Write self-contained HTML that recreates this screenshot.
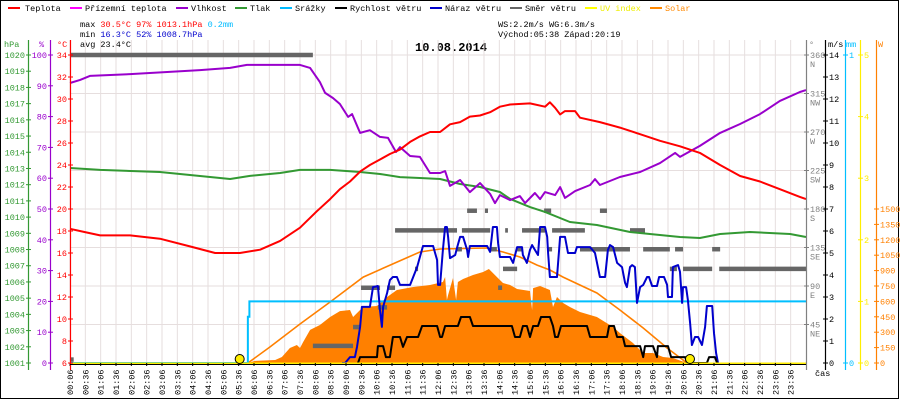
<!DOCTYPE html>
<html><head><meta charset="utf-8"><style>
html,body{margin:0;padding:0;background:#fff;}
svg{display:block;font-family:"Liberation Mono",monospace;}
</style></head><body>
<svg id="chart" width="900" height="400" viewBox="0 0 900 400">
<rect x="0.5" y="0.5" width="898" height="398" fill="#fff" stroke="#000"/>
<g font-size="8.5" fill="#000">
 <g><rect x="8" y="7" width="12" height="2" fill="#f00"/><text x="25" y="11">Teplota</text></g>
 <g><rect x="70" y="7" width="12" height="2" fill="#f0f"/><text x="85" y="11">Přízemní teplota</text></g>
 <g><rect x="176" y="7" width="12" height="2" fill="#90c"/><text x="191" y="11">Vlhkost</text></g>
 <g><rect x="235" y="7" width="12" height="2" fill="#393"/><text x="250" y="11">Tlak</text></g>
 <g><rect x="280" y="7" width="12" height="2" fill="#0bf"/><text x="295" y="11">Srážky</text></g>
 <g><rect x="335" y="7" width="12" height="2" fill="#000"/><text x="350" y="11">Rychlost větru</text></g>
 <g><rect x="430" y="7" width="12" height="2" fill="#00c"/><text x="445" y="11">Náraz větru</text></g>
 <g><rect x="510" y="7" width="12" height="2" fill="#666"/><text x="525" y="11">Směr větru</text></g>
 <g><rect x="585" y="7" width="12" height="2" fill="#ff0"/><text x="600" y="11" fill="#ee0">UV index</text></g>
 <g><rect x="650" y="7" width="12" height="2" fill="#f80"/><text x="665" y="11" fill="#f80">Solar</text></g>
</g>
<g font-size="8.5">
 <text x="80" y="27">max <tspan fill="#f00">30.5°C</tspan>  <tspan fill="#f00">97%</tspan>  <tspan fill="#f00">1013.1hPa</tspan>   <tspan fill="#0bf">0.2mm</tspan></text>
 <text x="80" y="37">min <tspan fill="#00c">16.3°C</tspan>  <tspan fill="#00c">52%</tspan>  <tspan fill="#00c">1008.7hPa</tspan></text>
 <text x="80" y="47">avg 23.4°C</text>
 <text x="498" y="27">WS:2.2m/s    WG:6.3m/s</text>
 <text x="498" y="37">Východ:05:38 Západ:20:19</text>
</g>
<text x="415" y="51" font-size="12" font-weight="bold">10.08.2014</text>
<g id="grid"></g>
<g id="marks"></g>
<g id="axes"></g>
</svg>
<script>
// ---- data (time in decimal hours) ----
const tempT=[0.10,0.59,1.08,2.06,3.03,4.01,4.83,5.64,6.30,6.95,7.60,8.15,8.58,8.90,9.23,9.56,9.88,10.21,10.53,10.86,11.19,11.51,11.84,12.17,12.49,12.82,13.14,13.47,13.80,14.12,14.45,15.10,15.59,15.75,15.92,16.08,16.24,16.57,16.73,17.38,18.03,18.69,19.34,19.99,20.64,21.30,21.95,22.60,23.25,23.90,24.10];
const tempV=[18.2,17.9,17.6,17.6,17.3,16.6,16.0,16.0,16.3,17.1,18.3,19.8,20.9,21.8,22.5,23.4,24.0,24.5,25.0,25.4,26.1,26.6,27.0,27.0,27.7,27.9,28.4,28.5,28.8,29.3,29.5,29.6,29.3,29.7,29.2,28.6,28.9,28.9,28.3,27.9,27.4,26.8,26.2,25.7,25.1,24.0,23.0,22.5,21.8,21.1,20.9];
const humT=[0.10,0.43,0.75,2.06,4.34,5.32,5.87,7.60,7.93,8.25,8.42,8.68,8.90,9.17,9.30,9.56,9.88,10.21,10.47,10.73,10.86,11.19,11.51,11.84,12.17,12.33,12.49,12.82,13.14,13.47,13.80,13.96,14.12,14.45,14.77,14.94,15.26,15.43,15.59,15.92,16.08,16.24,16.57,17.06,17.22,17.38,18.03,18.69,19.34,19.83,19.99,20.64,21.30,21.95,22.60,23.25,23.90,24.10];
const humV=[90.9,91.9,93.2,93.8,95.1,95.8,96.8,96.8,95.8,91.2,87.7,86.0,84.1,79.9,80.8,74.7,75.6,73.4,73.1,68.5,70.1,67.2,66.9,61.7,61.7,62.3,57.5,59.4,55.5,58.4,54.9,51.9,54.5,52.9,54.2,51.9,55.2,53.2,55.5,54.5,57.1,53.6,55.8,57.8,59.7,57.8,60.4,62.0,64.9,68.2,66.9,70.5,74.7,77.6,80.8,85.1,88.0,88.6];
const presT=[0.10,1.08,3.03,5.32,5.97,6.95,7.60,8.58,9.56,10.21,10.86,11.51,12.17,12.82,13.47,14.12,14.45,15.10,15.59,16.40,17.28,18.36,19.01,19.99,20.64,21.30,22.27,23.58,24.10];
const presV=[1013.03,1012.91,1012.78,1012.35,1012.54,1012.72,1012.91,1012.91,1012.78,1012.66,1012.47,1012.41,1012.35,1012.04,1011.86,1011.55,1011.12,1010.62,1010.32,1009.70,1009.51,1009.08,1008.96,1008.77,1008.71,1008.96,1009.08,1008.96,1008.77];
const gustT=[8.97,9.07,9.23,9.39,9.46,9.56,9.62,9.88,9.98,10.14,10.21,10.27,10.31,10.44,10.53,10.63,10.76,10.86,11.19,11.42,11.51,11.61,11.94,12.07,12.10,12.17,12.26,12.33,12.39,12.43,12.49,12.66,12.72,12.82,12.92,13.05,13.08,13.14,13.70,13.80,13.89,14.02,14.06,14.12,14.45,14.55,14.68,14.84,14.87,15.00,15.10,15.17,15.26,15.36,15.43,15.59,15.66,15.69,15.75,15.98,16.08,16.24,16.34,16.57,16.63,17.06,17.22,17.38,17.55,17.64,17.71,17.81,17.94,18.10,18.20,18.26,18.36,18.43,18.52,18.59,18.69,18.79,18.92,18.98,19.08,19.24,19.31,19.47,19.57,19.60,19.73,19.76,19.93,19.99,20.06,20.09,20.19,20.25,20.32,20.38,20.48,20.58,20.71,20.81,20.87,21.04,21.10,21.17,21.23];
const gustV=[0,0,0.27,0.27,0.73,1.64,2.55,2.55,3.45,3.5,2.41,1.64,2.55,3.18,3.77,3.91,3.91,3.55,3.55,4.36,4.82,5.32,5.32,4.68,3.55,3.55,5.14,6.18,6.18,5.73,4.77,4.91,5.23,5.73,5.73,5.14,4.82,5.32,5.32,5.05,6.18,6.18,5.45,4.82,4.82,4.55,5.27,5.27,4.91,4.55,5.14,5.36,5.14,4.91,6.18,6.18,5.73,5.0,3.91,3.91,5.73,5.73,5.0,5.0,5.27,5.27,5.0,3.91,3.91,5.14,5.36,5.27,4.55,4.36,3.64,3.45,4.36,4.45,4.36,2.73,3.45,3.55,3.91,3.91,3.5,3.5,3.91,3.91,3.55,3.0,3.0,4.36,4.45,4.14,2.73,3.45,3.45,2.86,1.82,0.82,1.18,1.18,0.82,1.64,2.59,2.59,1.36,0.45,0];
const windT=[9.49,9.56,10.11,10.14,10.31,10.40,10.53,10.63,10.86,10.96,11.09,11.45,11.58,12.07,12.17,12.23,12.33,12.75,12.85,13.14,13.24,14.51,14.61,14.77,14.87,15.00,15.10,15.20,15.36,15.46,15.75,15.85,15.92,16.01,16.11,16.96,17.06,17.61,17.68,17.84,17.94,18.13,18.20,18.69,18.79,18.85,19.11,19.24,19.27,19.60,19.70,20.16,20.22,20.87,20.94,21.13,21.20];
const windV=[0,0.27,0.27,0.77,0.77,0.27,0.27,1.18,1.18,0.73,1.18,1.18,1.68,1.68,1.18,1.18,1.68,1.68,2.09,2.09,1.68,1.68,1.18,1.18,1.68,1.68,1.18,1.68,1.68,2.09,2.09,1.68,1.18,1.18,1.68,1.68,1.18,1.18,1.68,1.68,1.18,1.18,0.77,0.77,0.27,0.77,0.77,0.27,0.77,0.77,0.27,0.27,0,0,0.27,0.27,0];
const solarT=[5.90,6.13,6.79,7.01,7.27,7.50,7.60,7.70,7.93,8.25,8.58,8.90,9.23,9.33,9.66,10.11,10.44,10.76,11.29,11.84,12.26,12.33,12.39,12.43,12.59,12.69,12.75,12.92,13.24,13.57,13.76,13.89,14.12,14.22,14.45,14.68,15.10,15.17,15.20,15.43,15.75,15.85,15.98,16.18,16.40,16.73,17.28,17.81,18.03,18.46,18.79,19.11,19.44,19.76,20.22];
const solarV=[0,20,29,58,146,175,146,204,322,370,448,506,516,448,546,555,643,711,740,760,789,838,614,662,828,614,789,818,857,886,916,877,808,779,760,721,701,516,730,750,711,545,643,584,545,497,448,351,292,195,97,97,58,49,0];
const solarMaxT=[5.90,6.62,7.60,8.58,9.66,10.76,11.51,12.17,13.70,14.22,14.77,15.33,15.75,16.18,17.28,18.03,18.79,19.57,20.22];
const solarMaxV=[0,156,380,594,837,983,1081,1110,1120,1081,1032,954,906,837,682,516,341,146,0];
const rainT=[0.10,5.87,5.90,5.95,24.10];
const rainV=[0,0,0.15,0.2,0.2];
const dirStart=[0.10,0.10,8.02,9.33,10.14,9.59,10.44,11.35,10.70,12.88,14.29,14.84,15.82,18.36,12.72,13.80,14.68,15.69,16.73,18.79,19.83,21.04,14.22,14.06,19.66,20.09,21.27,13.05,13.63,15.56,17.38];
const dirEnd=[8.02,0.22,9.33,9.56,10.44,10.21,10.70,11.45,12.72,13.80,14.38,15.59,16.89,18.85,12.88,14.02,14.84,15.82,18.36,19.66,20.09,21.30,14.68,14.19,19.89,21.04,24.10,13.37,13.73,15.79,17.61];
const dirDeg=[360,4,20,42,65,88,88,110,155,155,155,155,155,155,133,133,133,133,133,133,133,133,110,88,110,110,110,178,178,178,178];
const sunTimes=[5.633,20.317];
const timeLabels=["00:06","00:36","01:06","01:36","02:06","02:36","03:06","03:36","04:06","04:36","05:06","05:36","06:06","06:36","07:06","07:36","08:06","08:36","09:06","09:36","10:06","10:36","11:06","11:36","12:06","12:36","13:06","13:36","14:06","14:36","15:06","15:36","16:06","16:36","17:06","17:36","18:06","18:36","19:06","19:36","20:06","20:36","21:06","21:36","22:06","22:36","23:06","23:36"];
const hpaTicks=[1020,1019,1018,1017,1016,1015,1014,1013,1012,1011,1010,1009,1008,1007,1006,1005,1004,1003,1002,1001];
const pctTicks=[100,90,80,70,60,50,40,30,20,10,0];
const degCTicks=[34,32,30,28,26,24,22,20,18,16,14,12,10,8,6];
const dirTicks=[360,315,270,225,180,135,90,45];
const dirNames=["N","NW","W","SW","S","SE","E","NE"];
const msTicks=[14,13,12,11,10,9,8,7,6,5,4,3,2,1,0];
const mmTicks=[1,0];
const uvTicks=[5,4,3,2,1,0];
const wTicks=[1500,1350,1200,1050,900,750,600,450,300,150,0];

// ---- scales ----
const X0=70,X1=806,YB=363,YT=55,H=YB-YT;
const xS=h=>X0+(h-0.1)*(X1-X0)/24;
const yT=c=>YB-(c-6)/28*H;
const yH=p=>YB-p/100*H;
const yP=v=>YB-(v-1001)/19*H;
const yV=v=>YB-v/14*H;
const yD=d=>YB-d/360*H;
const yR=m=>YB-m*H;
const yW=w=>YB-w/3000*H;
const yU=u=>YB-u/5*H;

const NS="http://www.w3.org/2000/svg";
function mk(tag,attrs,parent){const e=document.createElementNS(NS,tag);for(const k in attrs)e.setAttribute(k,attrs[k]);parent.appendChild(e);return e;}
const grid=document.getElementById('grid'),marks=document.getElementById('marks'),axes=document.getElementById('axes');

timeLabels.forEach((lab,i)=>{const x=X0+i*(X1-X0)/48;
 const l=mk('line',{x1:x,x2:x,y1:40,y2:YB,stroke:'#e6dede','stroke-width':1},grid);
 
 
 const t=mk('text',{x:0,y:0,'font-size':8.5,transform:`translate(${x+3},395) rotate(-90)`},axes);
 t.textContent=lab;
 
 
 const tk=mk('line',{x1:x,x2:x,y1:YB,y2:YB+3,stroke:'#000'},axes);
 
 
});
dirTicks.forEach(d=>{const y=yD(d);
 const l=mk('line',{x1:X0,x2:X1,y1:y,y2:y,stroke:'#e6dede','stroke-width':1},grid);
 
 
});

function pts(T,V,ys){return T.map((t,i)=>xS(t).toFixed(1)+','+ys(V[i]).toFixed(1)).join(' ');}

const sp=mk('polygon',{points:pts(solarT,solarV,yW)+` ${xS(solarT[solarT.length-1])},${YB} ${xS(solarT[0])},${YB}`,fill:'#ff8000'},marks);


const sm=mk('polyline',{points:pts(solarMaxT,solarMaxV,yW),fill:'none',stroke:'#ff8000','stroke-width':1.6},marks);


let rp=[];rainT.forEach((t,i)=>{if(i>0)rp.push(xS(t)+','+yR(rainV[i-1]));rp.push(xS(t)+','+yR(rainV[i]));});
const rl=mk('polyline',{points:rp.join(' '),fill:'none',stroke:'#00bfff','stroke-width':2},marks);


dirDeg.forEach((d,i)=>{const y=yD(d);
 const r=mk('line',{x1:xS(dirStart[i]),x2:xS(dirEnd[i]),y1:y,y2:y,stroke:'#666','stroke-width':4.5},marks);
 
 
});
const series=[[gustT,gustV,yV,'#0000cc','wind-gust-line'],[windT,windV,yV,'#000','wind-speed-line'],[presT,presV,yP,'#339933','pressure-line'],[humT,humV,yH,'#9900cc','humidity-line'],[tempT,tempV,yT,'#ff0000','temperature-line']];
series.forEach(s=>{const p=mk('polyline',{points:pts(s[0],s[1],s[2]),fill:'none',stroke:s[3],'stroke-width':2,'stroke-linejoin':'round'},marks);
 
 
});
const uv=mk('line',{x1:X0,x2:X1,y1:yU(0)+0.5,y2:yU(0)+0.5,stroke:'#ffee00','stroke-width':2},marks);


sunTimes.forEach(t=>{const c=mk('circle',{cx:xS(t),cy:YB-4,r:4.5,fill:'#ffee00',stroke:'#000','stroke-width':1},marks);
 
 
});

function vaxis(x,color,name,ticks,ys,labelFn,side,hdr,hx){
 const g=mk('g',{},axes);
 
 
 mk('line',{x1:x+0.5,x2:x+0.5,y1:40,y2:370,stroke:color,'stroke-width':1.2},g);
 ticks.forEach(v=>{const y=ys(v);
  mk('line',{x1:x-2,x2:x+3,y1:y,y2:y,stroke:color},g);
  const t=mk('text',{x:side<0?x-3:x+4,y:y+3,'font-size':8.5,fill:color,'text-anchor':side<0?'end':'start'},g);
  t.textContent=labelFn(v);
  
  
 });
 const h=mk('text',{x:hx,y:47,'font-size':8.5,fill:color},g);h.textContent=hdr;
}
vaxis(28,'#339933','hpa-axis',hpaTicks,yP,v=>v,-1,'hPa',4);
vaxis(50,'#9900cc','humidity-axis',pctTicks,yH,v=>v,-1,'%',39);
vaxis(70,'#ff0000','temperature-axis',degCTicks,yT,v=>v,-1,'°C',57);
vaxis(806,'#808080','direction-axis',dirTicks,yD,v=>v,1,'°',809);
vaxis(825,'#000000','wind-speed-axis',msTicks,yV,v=>v,1,'m/s',828);
vaxis(845,'#00bfff','rain-axis',mmTicks,yR,v=>v,1,'mm',846);
vaxis(860,'#ffee00','uv-axis',uvTicks,yU,v=>v,1,'',0);
vaxis(876,'#ff8000','solar-axis',wTicks,yW,v=>v,1,'W',878);
dirTicks.forEach((d,i)=>{const t=mk('text',{x:810,y:yD(d)+12,'font-size':8.5,fill:'#808080'},axes);
 t.textContent=dirNames[i];
 
 
});
const cas=mk('text',{x:815,y:376,'font-size':8.5,fill:'#000'},axes);cas.textContent='čas';


const xl=mk('line',{x1:X0,x2:X1,y1:YB+1.5,y2:YB+1.5,stroke:'#000','stroke-width':1},axes);


</script>
</body></html>
